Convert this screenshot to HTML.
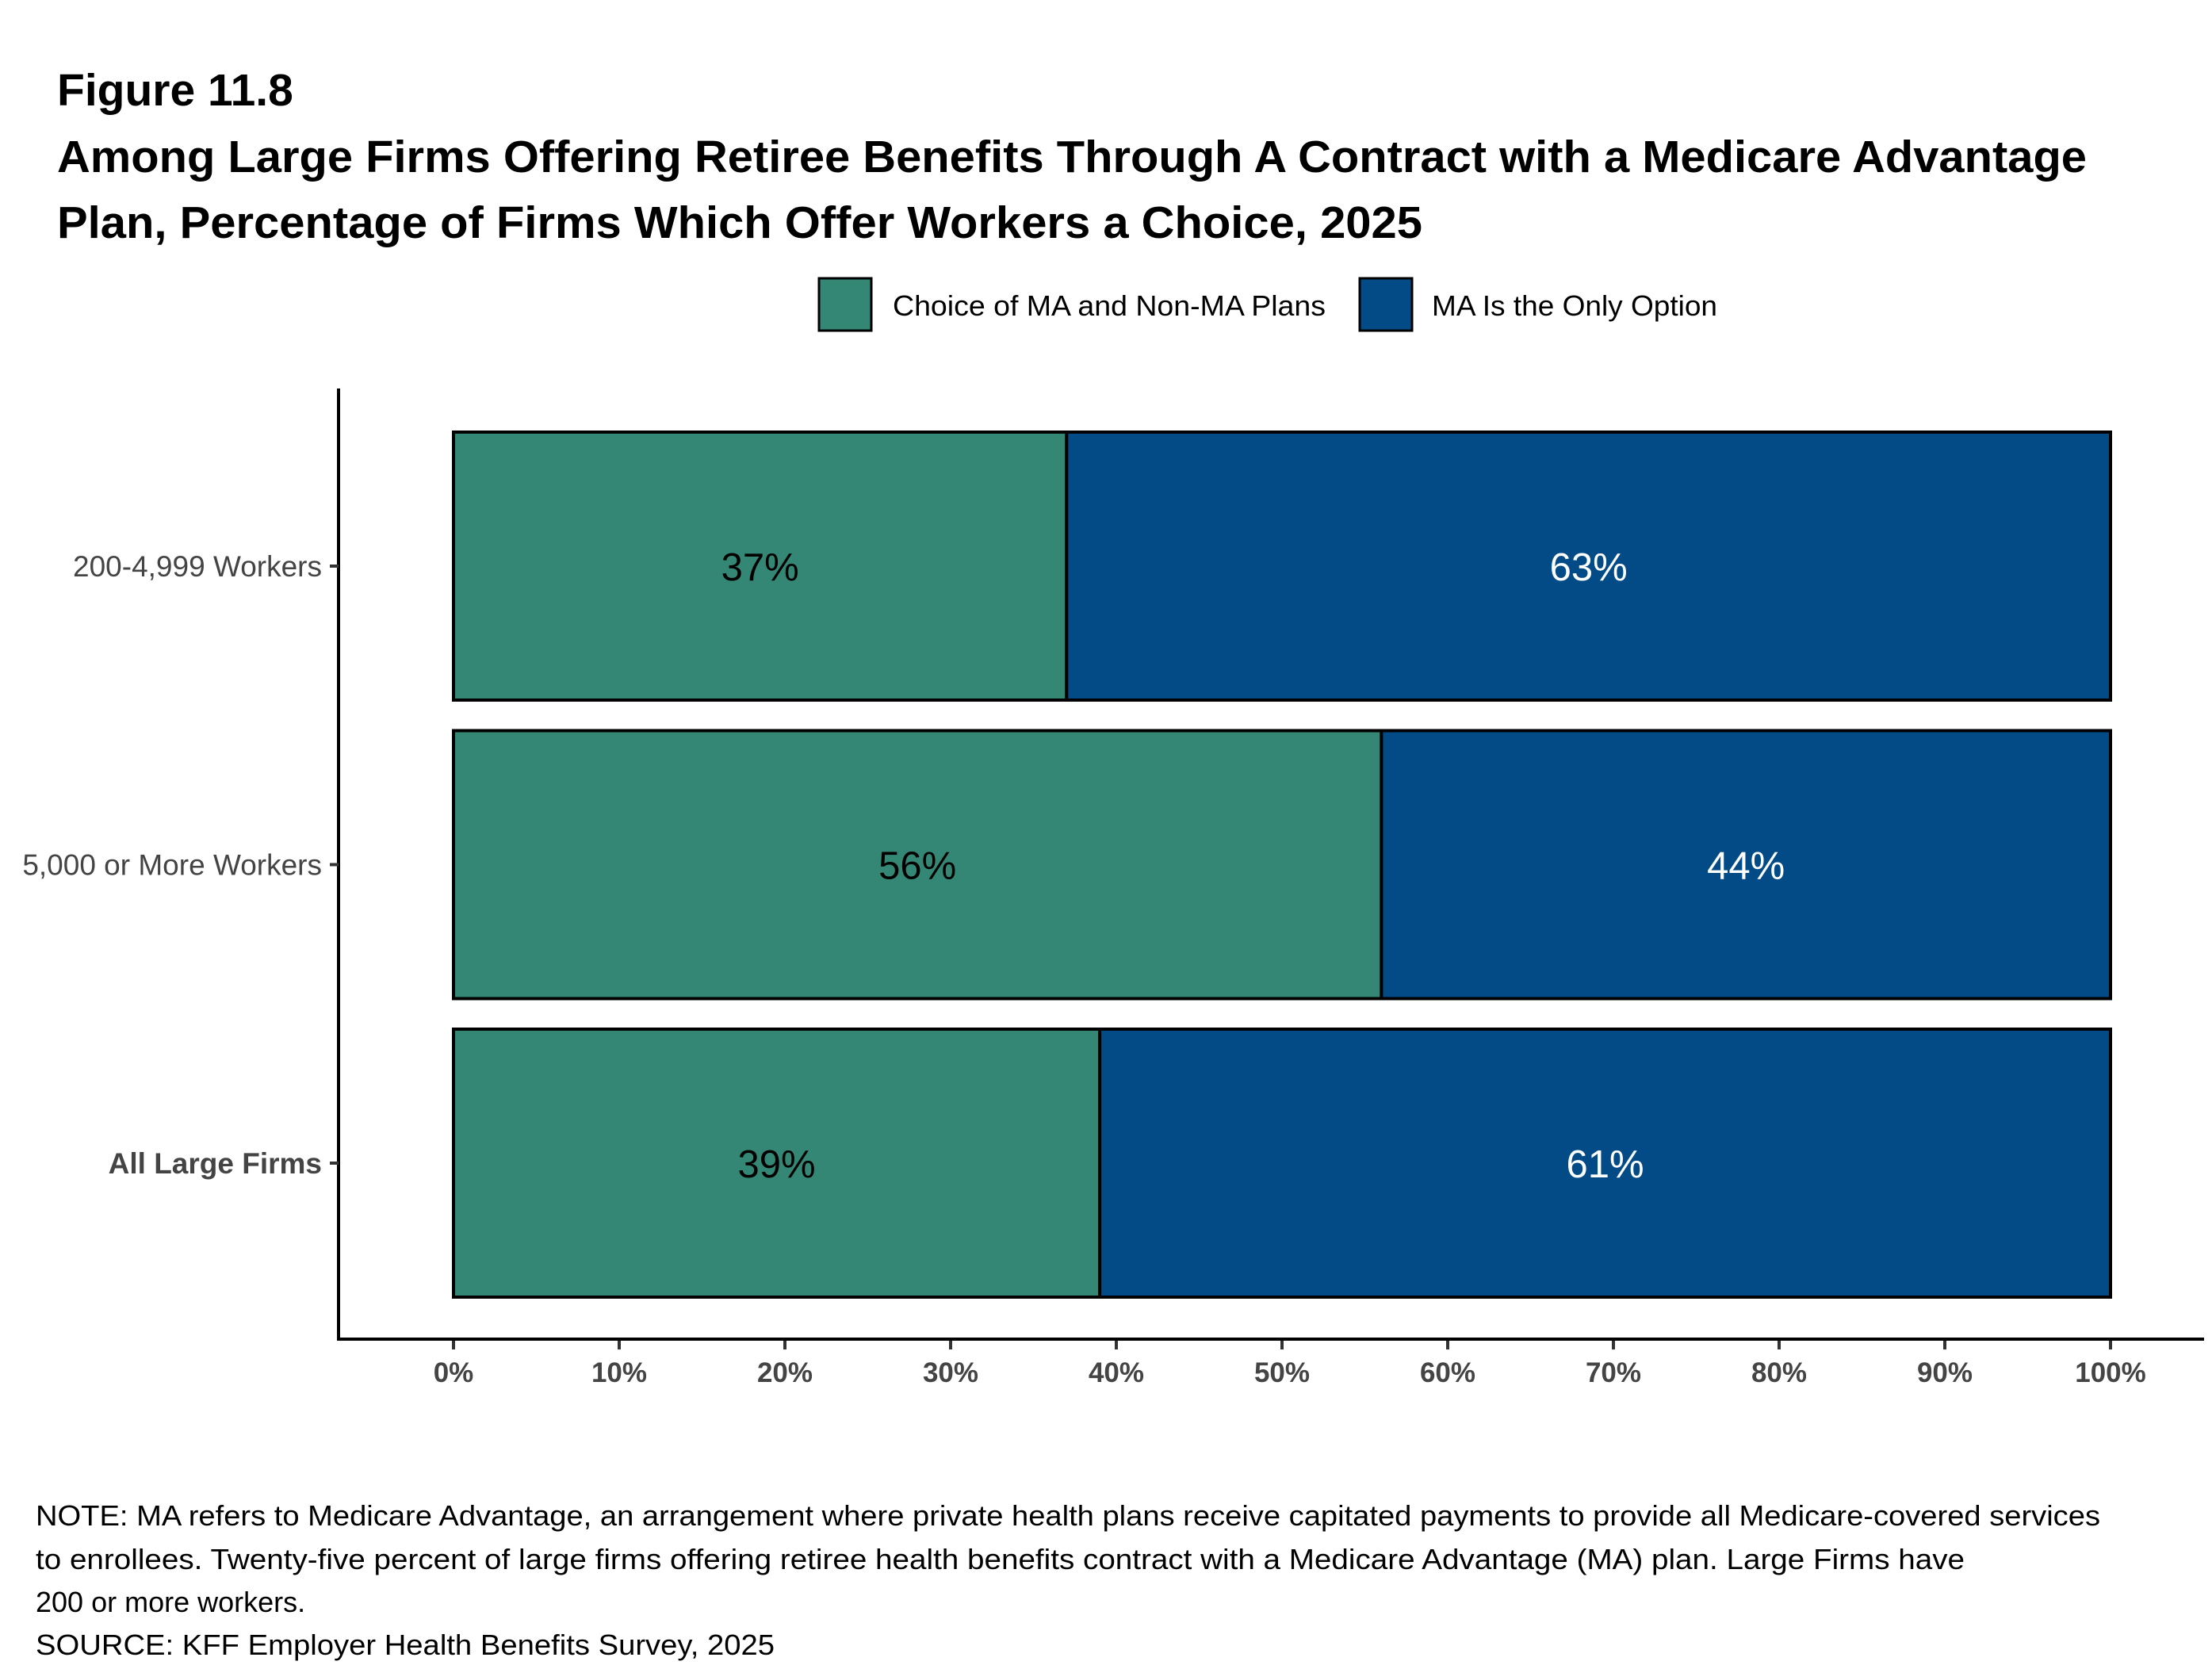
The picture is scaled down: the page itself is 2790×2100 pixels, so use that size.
<!DOCTYPE html>
<html><head><meta charset="utf-8"><style>
html,body{margin:0;padding:0;background:#fff;}
svg{display:block;font-family:"Liberation Sans",Arial,sans-serif;}
</style></head><body>
<svg id="chart" width="2790" height="2100" viewBox="0 0 2790 2100" xmlns="http://www.w3.org/2000/svg">
<rect width="2790" height="2100" fill="#fff"/>
<g font-weight="bold" font-size="57" fill="#000">
<text x="72" y="133">Figure 11.8</text>
<text x="72" y="217" textLength="2560" lengthAdjust="spacingAndGlyphs">Among Large Firms Offering Retiree Benefits Through A Contract with a Medicare Advantage</text>
<text x="72" y="300" textLength="1722" lengthAdjust="spacingAndGlyphs">Plan, Percentage of Firms Which Offer Workers a Choice, 2025</text>
</g>
<g font-size="36" fill="#000">
<rect x="1033" y="351" width="66" height="66" fill="#358775" stroke="#000" stroke-width="3"/>
<text x="1126" y="398" textLength="546" lengthAdjust="spacingAndGlyphs">Choice of MA and Non-MA Plans</text>
<rect x="1715" y="351" width="66" height="66" fill="#024b87" stroke="#000" stroke-width="3"/>
<text x="1806" y="398" textLength="360" lengthAdjust="spacingAndGlyphs">MA Is the Only Option</text>
</g>
<g id="plot"></g>
<g font-size="36" fill="#000">
<text x="45" y="1924" textLength="2604" lengthAdjust="spacingAndGlyphs">NOTE: MA refers to Medicare Advantage, an arrangement where private health plans receive capitated payments to provide all Medicare-covered services</text>
<text x="45" y="1979" textLength="2433" lengthAdjust="spacingAndGlyphs">to enrollees.  Twenty-five percent of large firms offering retiree health benefits contract with a Medicare Advantage (MA) plan.  Large Firms have</text>
<text x="45" y="2033">200 or more workers.</text>
<text x="45" y="2087" textLength="932" lengthAdjust="spacingAndGlyphs">SOURCE: KFF Employer Health Benefits Survey, 2025</text>
</g>
</svg>
<script>
const categories = ["200-4,999 Workers", "5,000 or More Workers", "All Large Firms"];
const choiceValues = [37, 56, 39];
const maOnlyValues = [63, 44, 61];
const tickValues = [0,10,20,30,40,50,60,70,80,90,100];
const tickLabels = ["0%","10%","20%","30%","40%","50%","60%","70%","80%","90%","100%"];

const NS = "http://www.w3.org/2000/svg";
const plot = document.getElementById("plot");
const x0 = 572, xPer = 20.9;
const xs = v => x0 + v * xPer;
const rowTop = 545, rowStep = 376.5, barH = 338;
const ys = i => rowTop + i * rowStep;
function mk(tag, attrs){ const e = document.createElementNS(NS, tag); for (const k in attrs) e.setAttribute(k, attrs[k]); plot.appendChild(e); return e; }

let ax = mk("line",{x1:427,y1:490,x2:427,y2:1691,stroke:"#000","stroke-width":4});


let axx = mk("line",{x1:425,y1:1689,x2:2780,y2:1689,stroke:"#000","stroke-width":4});



tickValues.forEach((v,i)=>{
  const t = mk("line",{x1:xs(v),y1:1691,x2:xs(v),y2:1702,stroke:"#333","stroke-width":4});
  
  
  const l = mk("text",{x:xs(v),y:1743,"text-anchor":"middle","font-size":35,"font-weight":"bold",fill:"#444"});
  
  
  l.textContent = tickLabels[i];
});

categories.forEach((c,i)=>{
  const y = ys(i), cy = y + barH/2;
  const t = mk("line",{x1:416,y1:cy,x2:427,y2:cy,stroke:"#333","stroke-width":4});
  
  
  const l = mk("text",{x:406,y:cy+13,"text-anchor":"end","font-size":37,fill:"#444","font-weight":i===2?"bold":"normal"});
  
  
  l.textContent = c;
  const g = mk("rect",{x:xs(0),y:y,width:xs(choiceValues[i])-xs(0),height:barH,fill:"#358775",stroke:"#000","stroke-width":4});
  
  
  const b = mk("rect",{x:xs(choiceValues[i]),y:y,width:xs(choiceValues[i]+maOnlyValues[i])-xs(choiceValues[i]),height:barH,fill:"#024b87",stroke:"#000","stroke-width":4});
  
  
  const gl = mk("text",{x:xs(choiceValues[i]/2),y:cy+18,"text-anchor":"middle","font-size":49,fill:"#000"});
  
  
  gl.textContent = choiceValues[i] + "%";
  const bl = mk("text",{x:xs(choiceValues[i]+maOnlyValues[i]/2),y:cy+18,"text-anchor":"middle","font-size":49,fill:"#fff"});
  
  
  bl.textContent = maOnlyValues[i] + "%";
});
</script>
</body></html>
